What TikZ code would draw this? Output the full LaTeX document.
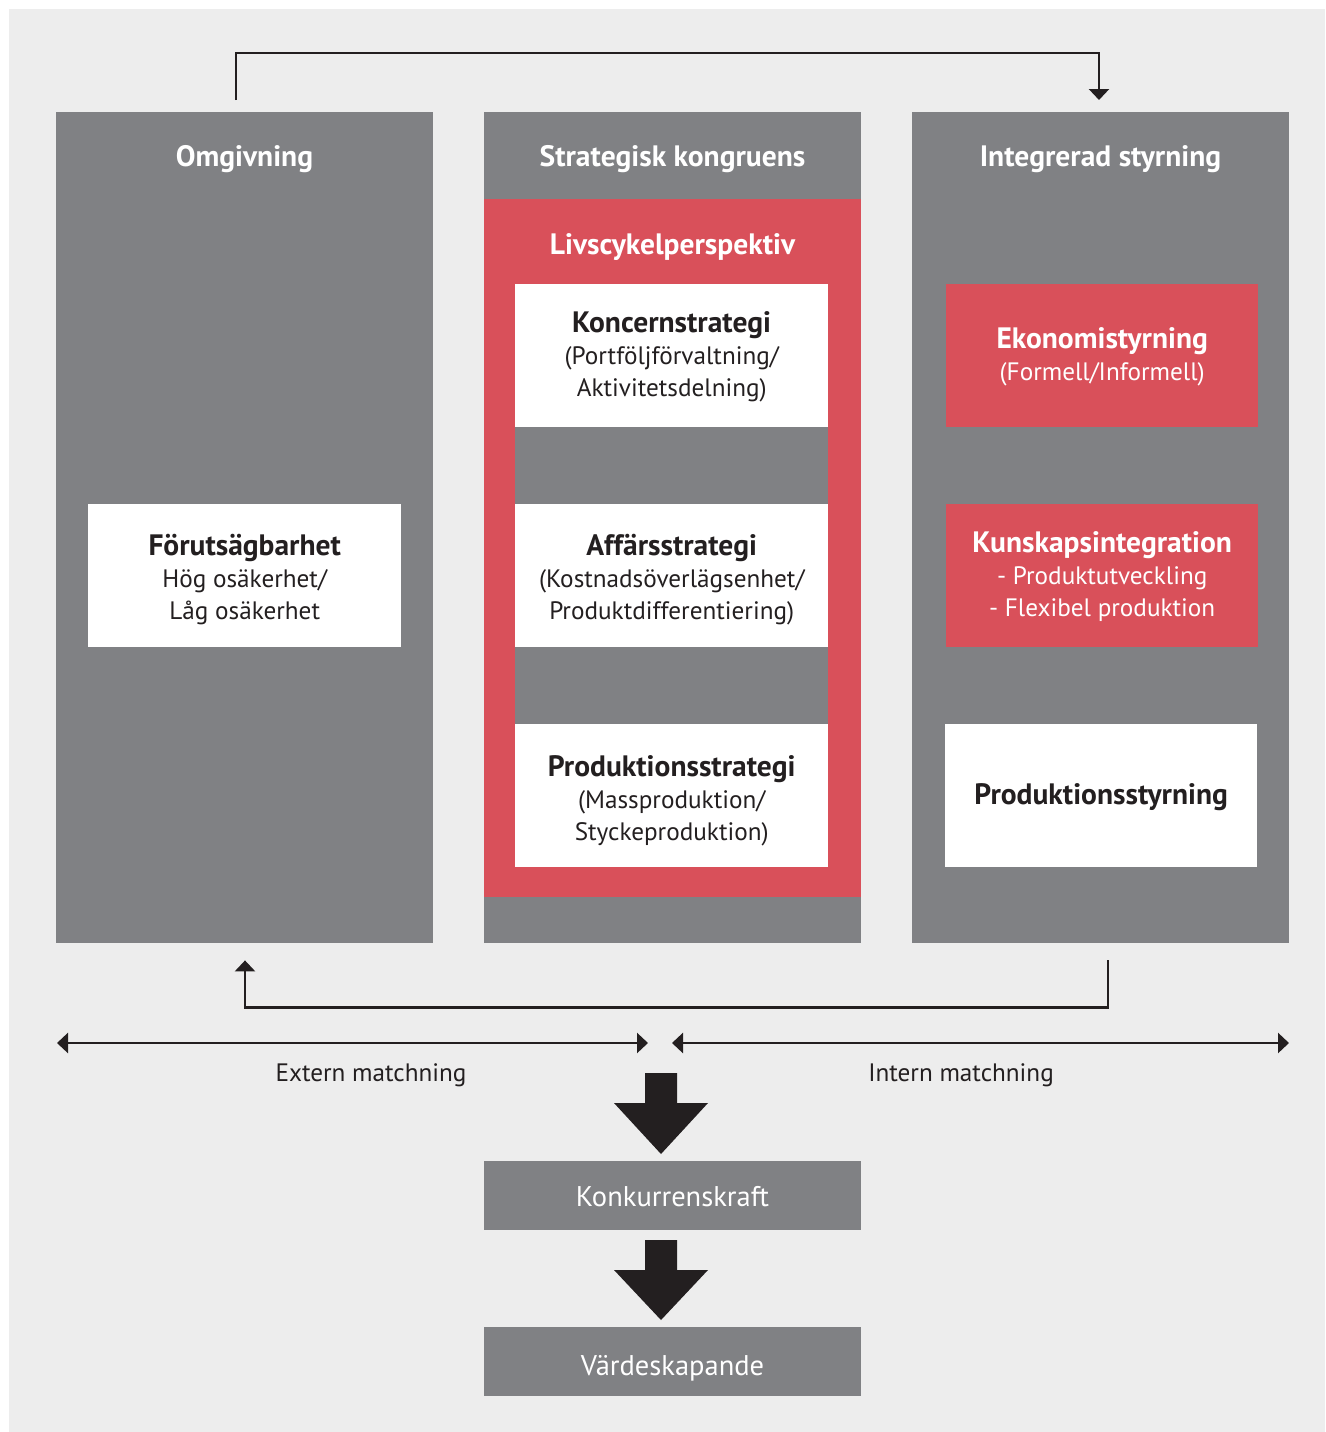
\documentclass[tikz,border=0pt]{standalone}
\usepackage{fontspec}
\setmainfont{PT Sans}
\usetikzlibrary{arrows.meta,calc}
\definecolor{bgc}{HTML}{EDEDED}
\definecolor{cgray}{HTML}{808184}
\definecolor{cred}{HTML}{D9505A}
\definecolor{cdark}{HTML}{231F20}
\newcommand{\hd}[1]{{\fontsize{29.5}{32}\selectfont\bfseries #1}}
\tikzset{
  colbox/.style={fill=cgray, draw=none, inner sep=0pt, anchor=north west, minimum width=377pt, minimum height=831pt},
  whitebox/.style={fill=white, draw=none, inner sep=0pt, anchor=north west, minimum width=313pt, minimum height=143pt},
  redbox/.style={fill=cred, draw=none, inner sep=0pt, anchor=north west, minimum width=312pt, minimum height=143pt},
  gapbox/.style={fill=cgray, draw=none, inner sep=0pt, anchor=north west, minimum width=313pt, minimum height=77pt},
  bottombox/.style={fill=cgray, draw=none, inner sep=0pt, anchor=north west, minimum width=377pt, minimum height=69pt},
  coltitle/.style={text=white, anchor=base, font=\fontsize{29.5}{32}\selectfont\bfseries},
  boxtext/.style={align=center, text=cdark, font=\fontsize{25.2}{32}\selectfont},
  redtext/.style={align=center, text=white, font=\fontsize{25.2}{32}\selectfont},
  lbl/.style={text=cdark, anchor=base, font=\fontsize{25.2}{30}\selectfont},
  btext/.style={text=white, anchor=base, font=\fontsize{28.5}{32}\selectfont},
  conn/.style={draw=cdark, line width=2.5pt},
  tip/.tip={Triangle[length=11pt,width=20pt]},
  bigarrow/.style={fill=cdark, draw=none}
}
\begin{document}
\begin{tikzpicture}[x=1pt,y=-1pt]
\useasboundingbox (0,0) rectangle (1325,1432);
\fill[white] (0,0) rectangle (1325,1432);
\fill[bgc] (9,9) rectangle (1325,1432);

% columns
\node[colbox] (omg) at (56,112) {};
\node[colbox] (strat) at (484,112) {};
\node[colbox] (integ) at (912,112) {};

\node[coltitle] (tomg) at (244.5,166) {Omgivning};
\node[coltitle] (tstrat) at (672.5,166) {Strategisk kongruens};
\node[coltitle] (tinteg) at (1100.5,166) {Integrerad styrning};

% red lifecycle
\node[fill=cred, inner sep=0pt, anchor=north west, minimum width=377pt, minimum height=698pt] (livs) at (484,199) {};
\node[coltitle] (tlivs) at (672.5,254) {Livscykelperspektiv};

% gray gaps between middle boxes
\node[gapbox] (gap1) at (515,427) {};
\node[gapbox] (gap2) at (515,647) {};

% middle white boxes
\node[whitebox] (kon) at (515,284) {};
\node[boxtext] at ($(kon.center)+(0,1)$) {\hd{Koncernstrategi}\\(Portföljförvaltning/\\Aktivitetsdelning)};
\node[whitebox] (aff) at (515,504) {};
\node[boxtext] at ($(aff.center)+(0,4)$) {\hd{Affärsstrategi}\\(Kostnadsöverlägsenhet/\\Produktdifferentiering)};
\node[whitebox] (prod) at (515,724) {};
\node[boxtext] at ($(prod.center)+(0,5)$) {\hd{Produktionsstrategi}\\(Massproduktion/\\Styckeproduktion)};

% left box
\node[whitebox] (for) at (88,504) {};
\node[boxtext] at ($(for.center)+(0,4)$) {\hd{Förutsägbarhet}\\Hög osäkerhet/\\Låg osäkerhet};

% right boxes
\node[redbox] (eko) at (946,284) {};
\node[redtext] at ($(eko.center)+(0,1)$) {\hd{Ekonomistyrning}\\(Formell/Informell)};
\node[redbox] (kun) at (946,504) {};
\node[redtext] at ($(kun.center)+(0,1)$) {\hd{Kunskapsintegration}\\- Produktutveckling\\- Flexibel produktion};
\node[whitebox, minimum width=312pt] (pst) at (945,724) {};
\node[boxtext] at ($(pst.center)+(0,1)$) {\hd{Produktionsstyrning}};

% top connector
\coordinate (ts) at ($(omg.north west)+(180,-12)$);
\coordinate (te) at ($(integ.north west)+(187,-12)$);
\draw[conn,-{tip}] (ts) -- ++(0,-47) -| (te);

% bottom connector
\coordinate (bs) at ($(integ.south west)+(196,17)$);
\coordinate (be) at ($(omg.south west)+(189,17)$);
\draw[conn,-{tip}] (bs) -- ++(0,47) -| (be);

% matching arrows
\coordinate (ea) at (57,1043);
\coordinate (eb) at (648,1043);
\coordinate (ia) at (672,1043);
\coordinate (ib) at (1289,1043);
\draw[conn,{tip}-{tip}] (ea) -- (eb);
\draw[conn,{tip}-{tip}] (ia) -- (ib);
\node[lbl] (ext) at (371,1081) {Extern matchning};
\node[lbl] (int) at (961,1081) {Intern matchning};

% bottom boxes
\node[bottombox] (konk) at (484,1161) {};
\node[btext] (tkonk) at (672.5,1206) {Konkurrenskraft};
\node[bottombox] (vard) at (484,1327) {};
\node[btext] (tvard) at (672.5,1375) {Värdeskapande};

% big arrows
\fill[bigarrow] (645,1073) -- (677,1073) -- (677,1103) -- (708,1103) -- (661,1154) -- (614,1103) -- (645,1103) -- cycle;
\fill[bigarrow] (645,1240) -- (677,1240) -- (677,1270) -- (708,1270) -- (661,1320) -- (614,1270) -- (645,1270) -- cycle;
\end{tikzpicture}
\end{document}
